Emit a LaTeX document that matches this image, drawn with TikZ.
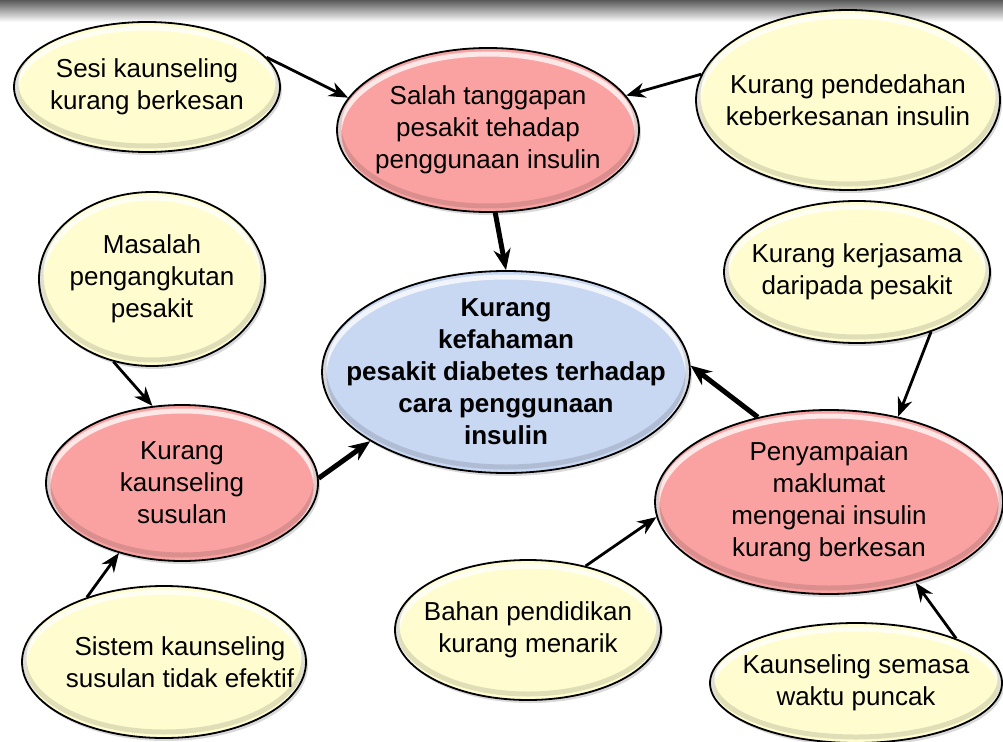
\documentclass[tikz,border=0pt]{standalone}
\usepackage{fontspec}
\setmainfont{Liberation Sans}
\usetikzlibrary{shapes.geometric,arrows.meta,shadows,calc}

\definecolor{creamfill}{RGB}{255,253,208}
\definecolor{pinkfill}{RGB}{250,162,162}
\definecolor{bluefill}{RGB}{200,215,242}

\begin{document}
\begin{tikzpicture}[x=1pt, y=-1pt,
    bubble/.style={ellipse, draw=black, line width=1.8pt, inner sep=0pt,
        drop shadow={shadow xshift=2pt, shadow yshift=-3pt, opacity=0.3},
        path picture={
            \draw[white, line width=5pt, opacity=0.75]
                let \p1=(path picture bounding box.north east), \p2=(path picture bounding box.center)
                in ([yshift=-4pt]\p2) ellipse ({\x1-\x2-2pt} and {\y1-\y2-2pt});
            \draw[black, line width=5pt, opacity=0.12]
                let \p1=(path picture bounding box.north east), \p2=(path picture bounding box.center)
                in ([yshift=4pt]\p2) ellipse ({\x1-\x2-2pt} and {\y1-\y2-2pt});
        }},
    cause/.style={bubble, fill=creamfill},
    problem/.style={bubble, fill=pinkfill},
    core/.style={bubble, fill=bluefill},
    blurb/.style={align=center, inner sep=0pt, font=\fontsize{26}{32}\selectfont},
    boldblurb/.style={blurb, font=\fontsize{26}{32}\selectfont\bfseries},
    feed/.style={-{Stealth[length=19pt, width=15pt]}, line width=2.8pt},
    lead/.style={-{Stealth[length=21pt, width=17pt]}, line width=5pt}]
    \useasboundingbox (0,0) rectangle (1003,741);

    % top bar
    \shade[top color=black!65, bottom color=white] (0,0) rectangle (1003,22);

    % top row
    \node[cause, minimum width=266, minimum height=130,
        label={[blurb]center:Sesi kaunseling\\kurang berkesan}] (sesi) at (147,87) {};
    \node[problem, minimum width=302, minimum height=164,
        label={[blurb]center:Salah tanggapan\\pesakit tehadap\\penggunaan insulin}] (salah) at (488,130) {};
    \node[cause, minimum width=304, minimum height=180,
        label={[blurb]center:Kurang pendedahan\\keberkesanan insulin}] (dedah) at (848,100) {};

    % middle
    \node[cause, minimum width=226, minimum height=174,
        label={[blurb]center:Masalah\\pengangkutan\\pesakit}] (angkut) at (152,279) {};
    \node[core, minimum width=368, minimum height=202,
        label={[boldblurb]center:Kurang\\kefahaman\\pesakit diabetes terhadap\\cara penggunaan\\insulin}] (faham) at (506,372) {};
    \node[cause, minimum width=266, minimum height=142,
        label={[blurb]center:Kurang kerjasama\\daripada pesakit}] (kerjasama) at (857,272) {};

    % lower left
    \node[problem, minimum width=272, minimum height=156,
        label={[blurb]center:Kurang\\kaunseling\\susulan}] (susulan) at (182,483) {};
    \node[cause, minimum width=284, minimum height=152,
        label={[blurb, xshift=16]center:Sistem kaunseling\\susulan tidak efektif}] (sistem) at (164,662) {};

    % lower right
    \node[problem, minimum width=348, minimum height=184,
        label={[blurb]center:Penyampaian\\maklumat\\mengenai insulin\\kurang berkesan}] (maklumat) at (829,502) {};
    \node[cause, minimum width=266, minimum height=140,
        label={[blurb]center:Bahan pendidikan\\kurang menarik}] (bahan) at (528,630) {};
    \node[cause, minimum width=292, minimum height=120,
        label={[blurb]center:Kaunseling semasa\\waktu puncak}] (puncak) at (856,683) {};

    % arrows to salah tanggapan
    \draw[feed] (sesi.14) -- (salah.167);
    \draw[feed] (dedah.170) -- (salah.14);
    \draw[lead] (salah.-85) -- (faham.90);

    % arrows to kaunseling susulan
    \draw[feed] (angkut.-115) -- (susulan.111);
    \draw[feed] (sistem.140) -- (susulan.-132);
    \draw[lead] (susulan.2) -- (faham.-153);

    % arrows to penyampaian maklumat
    \draw[feed] (kerjasama.-39) -- (maklumat.51);
    \draw[feed] (bahan.48) -- (maklumat.-175);
    \draw[feed] (puncak.24) -- (maklumat.-43);
    \draw[lead] (maklumat.130) -- (faham.2);
\end{tikzpicture}
\end{document}
